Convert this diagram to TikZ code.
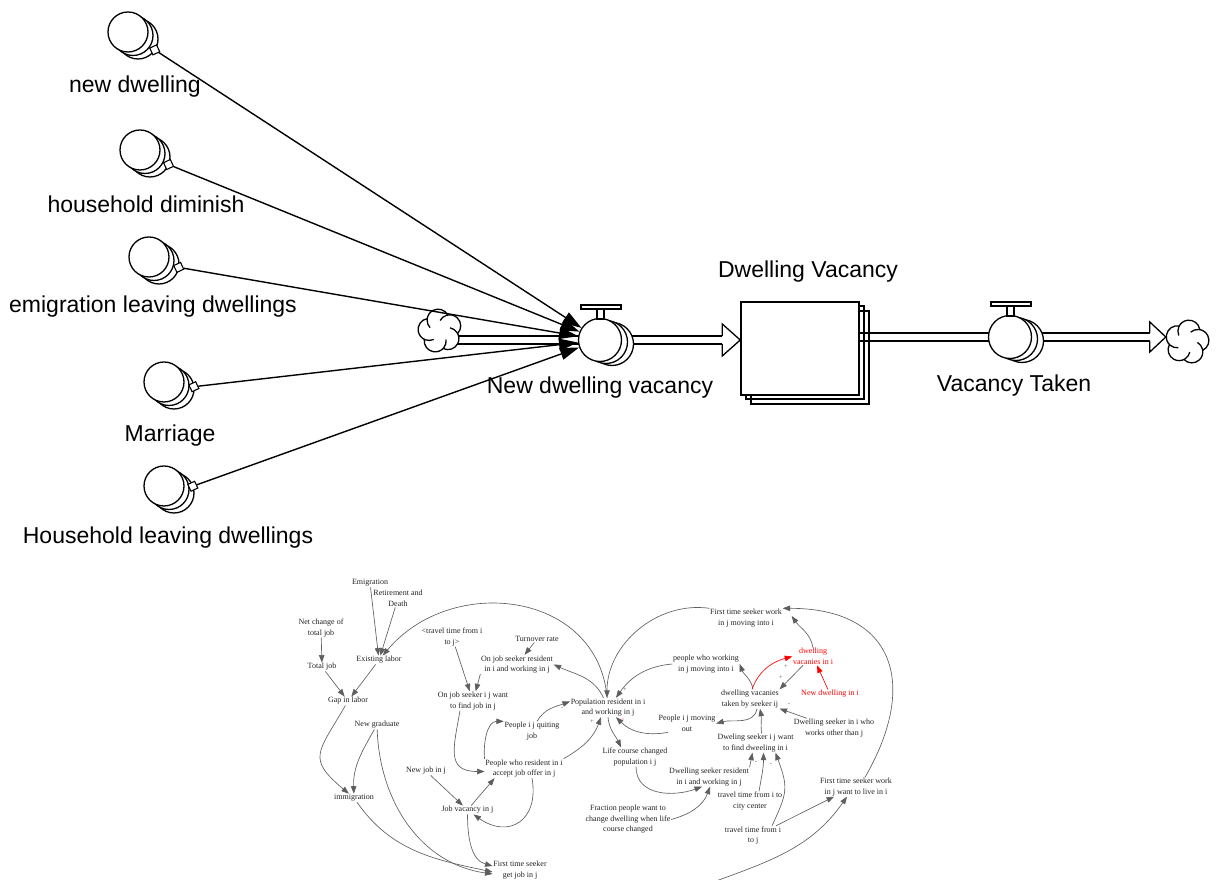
\documentclass[tikz,border=0pt]{standalone}
\usepackage{fontspec}
\setmainfont{Liberation Serif}
\newfontfamily\labelsans{Liberation Sans}
\usetikzlibrary{arrows.meta,calc}

\definecolor{linkgray}{HTML}{5E5E5E}
\definecolor{txtgray}{HTML}{222222}
\definecolor{loopred}{HTML}{FF0000}
\definecolor{signpink}{HTML}{F4A0A0}

\pgfdeclarelayer{pipelayer}
\pgfsetlayers{pipelayer,main}

\begin{document}
\begin{tikzpicture}[x=1pt,y=1pt,
  biglabel/.style={font=\labelsans\fontsize{23}{27}\selectfont, inner sep=0pt},
  vname/.style={font=\fontsize{8}{10.5}\selectfont, align=center, inner sep=0.6pt, text=txtgray},
  redname/.style={vname, text=loopred},
  cause/.style={draw=linkgray, line width=0.65pt, -{Triangle[length=7.5pt,width=5.5pt]}},
  redcause/.style={cause, draw=loopred},
  feed/.style={line width=1.4pt, -{Triangle[length=19pt,width=12pt]}},
  polarity/.style={font=\fontsize{6.5}{7}\selectfont, text=linkgray, inner sep=0pt},
  pipeline/.style={line width=1.3pt, double=white, double distance=6.5pt},
  ring/.style={circle, draw, line width=1.3pt, fill=white, minimum size=#1, inner sep=0pt},
  knob/.style={draw, line width=1.1pt, fill=white, minimum size=7.5pt, inner sep=0pt, rotate=25},
  cloudspot/.style={circle, minimum size=44pt, inner sep=0pt},
  curl/.style={line width=1.3pt},
  stockbox/.style={draw, line width=1.5pt, minimum width=118pt, minimum height=93pt, inner sep=0pt},
  valvecap/.style={line width=1.2pt, fill=white},
]
\useasboundingbox (0,0) rectangle (1216,880);

% ---------------- stock and flow ----------------
\node[stockbox] at (810,522.5) {};
\node[stockbox] at (805,527.5) {};
\node[stockbox, fill=white] (stock) at (800,531.5) {};

% source and sink clouds: five puffs whose arcs curl inwards
\node[cloudspot] (c1) at (440,549) {};
\node[cloudspot] (c2) at (1187,538) {};
\foreach \c/\r in {c1/100,c2/80} {
  \foreach \k in {0,...,4} \fill[white] ($(\c)+(\r+72*\k:11)$) circle (11);
  \foreach \k in {0,...,4}
    \draw[curl] ($(\c)+(\r+72*\k:11)+(\r+72*\k-72:11)$) arc[start angle=\r+72*\k-72, delta angle=195, radius=11];
}

% inflow valve
\node[ring=43] at (612,536) {};
\node[ring=43] at (606,538) {};
\node[ring=43] (v1) at (600,540) {};
\draw[valvecap] ($(v1)+(-3,21)$) rectangle ($(v1)+(4,31)$);
\draw[valvecap] ($(v1)+(-19,31)$) rectangle ($(v1)+(21,35)$);

% outflow valve
\node[ring=43] at (1022,539) {};
\node[ring=43] at (1016,541) {};
\node[ring=43] (v2) at (1010,543) {};
\draw[valvecap] ($(v2)+(-3,21)$) rectangle ($(v2)+(4,31)$);
\draw[valvecap] ($(v2)+(-19,31)$) rectangle ($(v2)+(21,35)$);

\coordinate (tip1) at (stock.west |- v1);
\coordinate (tail2) at (stock.east |- v2);
\coordinate (tip2) at ([xshift=1pt]c2.west |- v2);

\begin{pgfonlayer}{pipelayer}
  \draw[pipeline] (c1.center |- v1) -- ([xshift=-18pt]tip1);
  \draw[pipeline] (tail2) -- ([xshift=-16pt]tip2);
\end{pgfonlayer}

% hollow flow arrowheads
\fill[white] (tip1) -- ++(-18,16) -- ++(0,-32) -- cycle;
\draw[line width=1.3pt, line join=miter] ($(tip1)+(-18,3.9)$) -- ++(0,12.1) -- (tip1) -- ($(tip1)+(-18,-16)$) -- ++(0,12.1);
\fill[white] (tip2) -- ++(-16,15) -- ++(0,-30) -- cycle;
\draw[line width=1.3pt, line join=miter] ($(tip2)+(-16,3.9)$) -- ++(0,11.1) -- (tip2) -- ($(tip2)+(-16,-15)$) -- ++(0,11.1);

% auxiliaries feeding the inflow
\foreach \n/\x/\y in {a1/128/848, a2/140/730, a3/149/623, a4/164/498, a5/164/394} {
  \node[ring=40] (s\n) at (\x+10,\y-7) {};
  \node[ring=40] at (\x+5,\y-3.5) {};
  \node[ring=40] (\n) at (\x,\y) {};
  \node[knob] (k\n) at ($(s\n)!20pt!(v1)$) {};
}
\foreach \n in {a1,a2,a3,a4,a5} \draw[feed] (k\n) -- (v1);

\node[biglabel] (l1) at (135,793) {new dwelling};
\node[biglabel] (l2) at (146,676) {household diminish};
\node[biglabel] (l3) at (153,573) {emigration leaving dwellings};
\node[biglabel] (l4) at (170,444) {Marriage};
\node[biglabel] (l5) at (168,342) {Household leaving dwellings};
\node[biglabel] (lv1) at (600,492) {New dwelling vacancy};
\node[biglabel] (ls) at (808,608) {Dwelling Vacancy};
\node[biglabel] (lv2) at (1014,494) {Vacancy Taken};

% ---------------- causal loop diagram ----------------
\node[vname] (emig) at (370,297) {Emigration};
\node[vname] (retire) at (398,281.5) {Retirement and\\Death};
\node[vname] (netjob) at (321,252) {Net change of\\total job};
\node[vname] (exist) at (379,220) {Existing labor};
\node[vname] (total) at (322,213) {Total job};
\node[vname] (gap) at (348,179) {Gap in labor};
\node[vname] (ttij2) at (452,243) {<travel time from i\\to j>};
\node[vname] (turn) at (537,241) {Turnover rate};
\node[vname] (ojsr) at (517,215.5) {On job seeker resident\\in i and working in j};
\node[vname] (ojsw) at (473,179) {On job seeker i j want\\to find job in j};
\node[vname] (grad) at (377,155) {New graduate};
\node[vname] (quit) at (532,149) {People i j quiting\\job};
\node[vname] (pop) at (608,172.5) {Population resident in i\\and working in j};
\node[vname] (accept) at (524,111.5) {People who resident in i\\accept job offer in j};
\node[vname] (newjob) at (426,109) {New job in j};
\node[vname] (immig) at (354,82) {immigration};
\node[vname] (vac) at (467.5,70) {Job vacancy in j};
\node[vname] (ftsg) at (520,10) {First time seeker\\get job in j};
\node[vname] (life) at (635,123) {Life course changed\\population i j};
\node[vname] (frac) at (628,60.5) {Fraction people want to\\change dwelling when life\\course changed};
\node[vname] (dsr) at (709,103) {Dwelling seeker resident\\in i and working in j};
\node[vname] (ftsm) at (746,262) {First time seeker work\\in j moving into i};
\node[vname] (pwm) at (706,216) {people who working\\in j moving into i};
\node[redname] (dvi) at (813,223.5) {dwelling\\vacanies in i};
\node[redname] (ndi) at (830,186) {New dwelling in i};
\node[vname] (dvt) at (750,181) {dwelling vacanies\\taken by seeker ij};
\node[vname] (pmo) at (687,156.5) {People i j moving\\out};
\node[vname] (dso) at (834,152) {Dwelling seeker in i who\\works other than j};
\node[vname] (dsw) at (755.5,137) {Dweling seeker i j want\\to find dweeling in i};
\node[vname] (ttc) at (750,79) {travel time from i to\\city center};
\node[vname] (ttij) at (753,44.5) {travel time from i\\to j};
\node[vname] (ftsl) at (856,93) {First time seeker work\\in j want to live in i};
\coordinate (offpage) at (716,-1);

% labour market links
\draw[cause] (emig) -- (exist);
\draw[cause] (retire) -- (exist);
\draw[cause] (pop) to[out=95,in=50,looseness=1.2] (exist);
\draw[cause] (netjob) -- (total);
\draw[cause] (total) -- (gap);
\draw[cause] (exist) -- (gap);
\draw[cause] (gap) to[out=240,in=140,looseness=1.6] (immig);
\draw[cause] (grad) to[out=240,in=92] (immig);
\draw[cause] (grad) to[out=272,in=172] ([yshift=-4pt]ftsg.west);
\draw[cause] (immig) to[out=-55,in=168] ([yshift=-2pt]ftsg.west);
\draw[cause] (ttij2) -- (ojsw);
\draw[cause] (ojsr.south west) -- (ojsw);
\draw[cause] (turn) -- (ojsr);
\draw[cause] (pop) to[out=115,in=-25] (ojsr.east);
\draw[cause] ([xshift=-13pt]ojsw.south) to[out=260,in=180,looseness=1.5] ([yshift=-3pt]accept.west);
\draw[cause] (newjob) -- (vac);
\draw[cause] (vac) to[out=50,in=230] ([xshift=10pt]accept.south west);
\draw[cause] ([xshift=8pt]accept.south) to[out=-80,in=-35,looseness=1.6] ([xshift=6pt]vac.south);
\draw[cause] (vac.south) to[out=-90,in=165] ([yshift=4pt]ftsg.west);
\draw[cause] (accept.north west) to[out=95,in=180] (quit.north west);
\draw[cause] ([xshift=5pt]quit.north) to[out=60,in=200] ([yshift=6pt]pop.west);
\draw[cause] (accept.north east) to[out=30,in=250] ([xshift=-7pt]pop.south);
\draw[cause] (pop.south) to[out=-85,in=115] ([xshift=-14pt]life.north);

% dwelling market links
\draw[cause] ([xshift=1pt]life.south) to[out=-90,in=200,looseness=1.1] ([xshift=-7pt]dsr.south);
\draw[cause] (frac.east) to[out=15,in=250] ([xshift=1pt]dsr.south);
\draw[cause] ([xshift=-19pt]pmo.south) to[out=190,in=-45] ([xshift=8pt]pop.south);
\draw[cause] (pwm.west) to[out=185,in=55] ([xshift=8pt]pop.north);
\draw[cause] (ftsm.north west) to[out=172,in=90] ([xshift=-1pt]pop.north);
\draw[cause] ([xshift=3pt]dvt.north) to[out=100,in=-70] (pwm.east);
\draw[cause] ([xshift=7pt]dvt.south) to[out=-100,in=15] (pmo.east);
\draw[redcause] ([xshift=2pt]dvt.north) to[out=70,in=195] (dvi.west);
\draw[cause] ([xshift=-10pt]dvi.south) -- (dvt.north east);
\draw[redcause] (ndi) -- (dvi);
\draw[cause] (dvi.north) to[out=100,in=-55] ([xshift=9pt,yshift=2pt]ftsm.east);
\draw[cause] ([xshift=-27pt]dso.north) -- (dvt.south east);
\draw[cause] ([xshift=6pt]dsw.north) to[out=95,in=-80] ([xshift=10pt]dvt.south);
\draw[cause] (dsr.north east) -- ([xshift=-3pt]dsw.south);
\draw[cause] ([xshift=9pt]ttc.north) to[out=80,in=-90] ([xshift=8pt]dsw.south);
\draw[cause] ([xshift=19pt]ttij.north) to[out=65,in=-70,looseness=1.3] ([xshift=20pt]dsw.south);
\draw[cause] ([xshift=23pt]ttij.north) -- ([xshift=-22pt]ftsl.south);
\draw[cause] (offpage) to[out=20,in=235] ([xshift=-9pt]ftsl.south);
\draw[cause] ([xshift=9pt]ftsl.north) to[out=60,in=0,looseness=1.5] (ftsm.north east);

% link polarities
\node[polarity] at (562,171) {-};
\node[polarity] at (592,158) {+};
\node[polarity] at (625,190) {+};
\fill[signpink] (623,161) circle (0.9);
\node[polarity] at (786,213) {+};
\node[polarity] at (781,202) {+};
\node[polarity] at (789,175) {-};
\node[polarity] at (756,117) {-};
\node[polarity] at (771,115) {-};
\end{tikzpicture}
\end{document}
